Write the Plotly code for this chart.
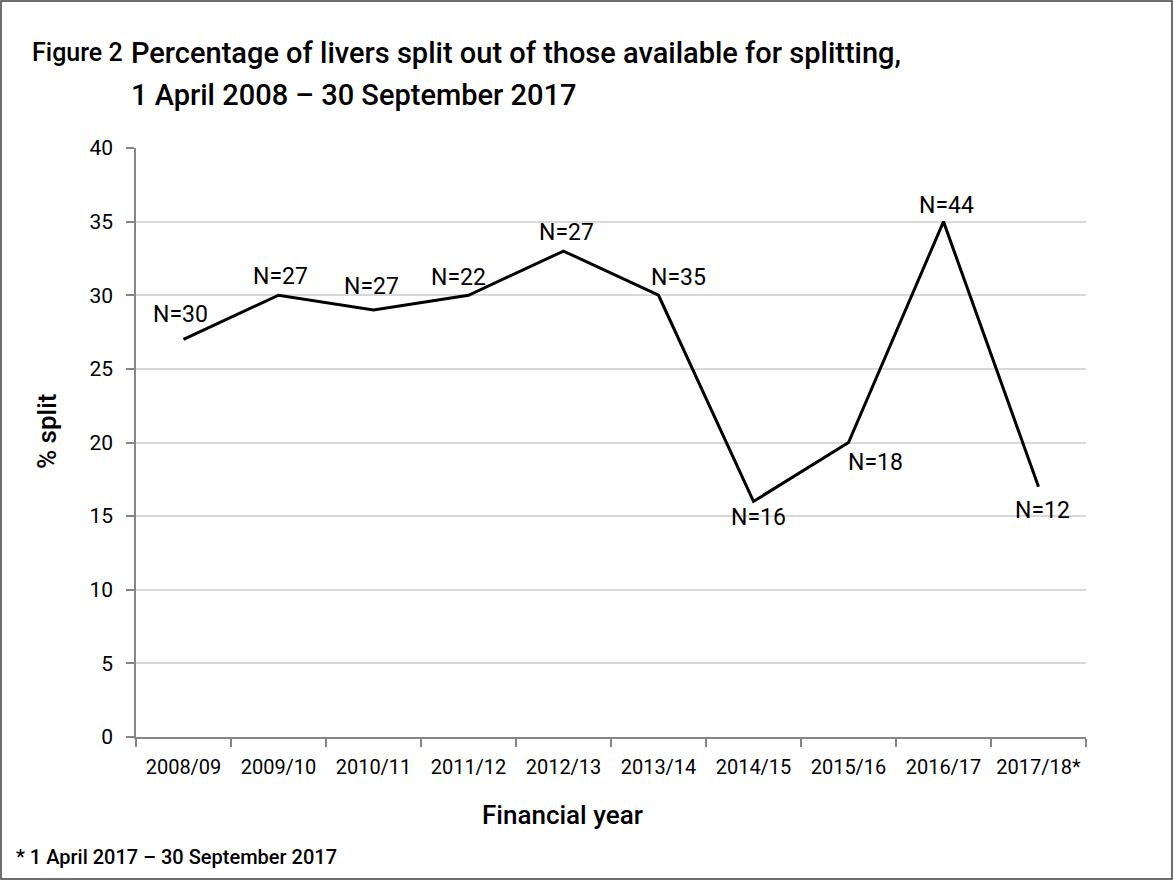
import plotly.graph_objects as go

# Financial years and share of livers split (%)
years = ["2008/09", "2009/10", "2010/11", "2011/12", "2012/13",
         "2013/14", "2014/15", "2015/16", "2016/17", "2017/18*"]
pct_split = [27, 30, 29, 30, 33, 30, 16, 20, 35, 17]
n_labels = ["N=30", "N=27", "N=27", "N=22", "N=27",
            "N=35", "N=16", "N=18", "N=44", "N=12"]
# label offsets (px) relative to each point
label_dx = [-3, 2, -2, -10, 3, 20, 5, 27, 3, 4]
label_dy = [25, 19, 23, 18, 19, 18, -16, -20, 16, -24]

W, H = 1174, 881
L, R, T, B = 136, 1086, 148, 737
FONT = "Roboto, Arial, sans-serif"


def px(x):
    return (x - L) / (R - L)


def py(y):
    return (B - y) / (B - T)


fig = go.Figure()
fig.add_trace(go.Scatter(
    x=years, y=pct_split, mode="lines",
    line=dict(color="black", width=3),
    hoverinfo="skip", showlegend=False,
))

for yr, v, lab, dx, dy in zip(years, pct_split, n_labels, label_dx, label_dy):
    fig.add_annotation(
        x=yr, y=v, text=lab, showarrow=False, xshift=dx, yshift=dy,
        font=dict(family=FONT, size=23, color="black"),
    )

# outer frame
fig.add_shape(type="rect", xref="paper", yref="paper",
              x0=px(1), x1=px(1172), y0=py(879), y1=py(1),
              line=dict(color="#404040", width=1.5), layer="below")

TITLE_FONT = dict(family=FONT, size=29, color="black", weight=500)

# title
fig.add_annotation(xref="paper", yref="paper", x=px(30), y=py(53),
                   xanchor="left", yanchor="middle", showarrow=False,
                   text="Figure 2",
                   font=dict(family=FONT, size=25, color="black", weight=500))
fig.add_annotation(xref="paper", yref="paper", x=px(129), y=py(53),
                   xanchor="left", yanchor="middle", showarrow=False,
                   text="Percentage of livers split out of those available for splitting,",
                   font=TITLE_FONT)
fig.add_annotation(xref="paper", yref="paper", x=px(129), y=py(95),
                   xanchor="left", yanchor="middle", showarrow=False,
                   text="1 April 2008 – 30 September 2017", font=TITLE_FONT)

# axis titles
fig.add_annotation(xref="paper", yref="paper", x=px(47), y=py(431),
                   xanchor="center", yanchor="middle", showarrow=False,
                   text="% split", textangle=-90,
                   font=dict(family=FONT, size=26, color="black", weight=500))
fig.add_annotation(xref="paper", yref="paper", x=px(562), y=py(815),
                   xanchor="center", yanchor="middle", showarrow=False,
                   text="Financial year",
                   font=dict(family=FONT, size=26, color="black", weight=500))

# footnote
fig.add_annotation(xref="paper", yref="paper", x=px(14), y=py(857),
                   xanchor="left", yanchor="middle", showarrow=False,
                   text="* 1 April 2017 – 30 September 2017",
                   font=dict(family=FONT, size=20, color="black", weight=500))

fig.update_layout(
    width=W, height=H,
    margin=dict(l=L, r=W - R, t=T, b=H - B),
    paper_bgcolor="white", plot_bgcolor="white",
    font=dict(family=FONT, color="black"),
    xaxis=dict(
        type="category", tickson="boundaries", ticks="outside",
        ticklen=8, tickcolor="#868686", tickwidth=1.5,
        showline=True, linecolor="#868686", linewidth=2,
        showgrid=False, tickfont=dict(size=20, family=FONT),
        tickangle=0, range=[-0.5, 9.5], ticklabelstandoff=11,
    ),
    yaxis=dict(
        range=[0, 40], dtick=5, ticks="outside", ticklen=8,
        tickcolor="#868686", tickwidth=1.5,
        showline=True, linecolor="#868686", linewidth=1.5,
        showgrid=True, gridcolor="#d9d9d9", gridwidth=1.5,
        zeroline=False, tickfont=dict(size=21, family=FONT),
        ticklabelstandoff=9,
    ),
)

fig.write_html("out.html")
